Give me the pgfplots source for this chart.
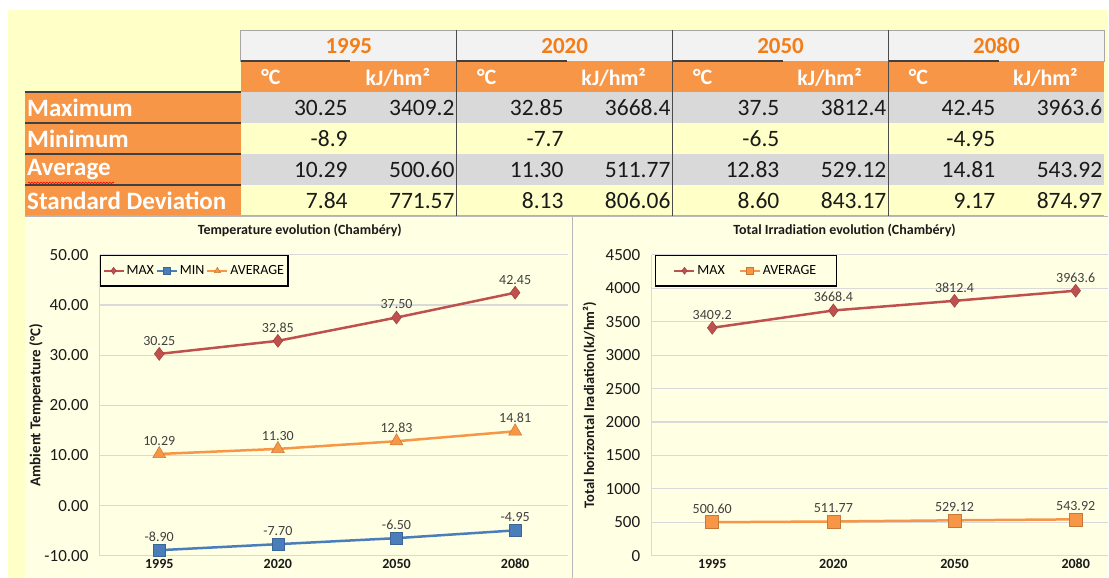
\documentclass[border=0pt]{standalone}
\usepackage{pgfplots}
\pgfplotsset{compat=1.18}
\usepackage{fontspec}
\setmainfont{Carlito}
\usetikzlibrary{decorations.pathmorphing}
\definecolor{ybg}{HTML}{FFFFC8}
\definecolor{cbg}{HTML}{FFFFE4}
\definecolor{org}{HTML}{F79646}
\definecolor{yeartxt}{HTML}{F47D16}
\definecolor{rowgray}{HTML}{D9D9D9}
\definecolor{hdrgray}{HTML}{F2F2F2}
\definecolor{maxred}{HTML}{C0504D}
\definecolor{minblue}{HTML}{4A7EBB}
\definecolor{avgorg}{HTML}{F79646}
\definecolor{gridgray}{HTML}{D9D9D9}
\definecolor{txt}{HTML}{1A1A1A}
\definecolor{lbl}{HTML}{404040}
\pgfplotsset{
  chartbase/.style={
    scale only axis, height=301pt,
    xtick={0,1,2,3}, xticklabels={1995,2020,2050,2080},
    axis x line*=bottom, axis y line*=left,
    axis line style={draw=gridgray, line width=1pt},
    ymajorgrids, grid style={draw=gridgray, line width=1.2pt},
    major tick length=0pt,
    /pgf/number format/assume math mode=true,
    xticklabel style={font=\bfseries\fontsize{14}{16}\selectfont, text=txt},
    yticklabel style={font=\fontsize{17}{19}\selectfont, text=txt, xshift=-8pt},
    legend image code/.code={\draw[mark repeat=2,mark phase=2,#1] plot coordinates {(0pt,0pt)(10pt,0pt)(20pt,0pt)};},
    legend image post style={mark size=3.5pt, line width=2pt},
    every node near coord/.append style={font=\fontsize{14}{16}\selectfont, text=lbl, yshift=5pt},
  }
}
\begin{document}
\begin{tikzpicture}
\begin{scope}[x=1pt,y=-1pt]
\path[use as bounding box] (0,0) rectangle (1109,578);
\fill[white] (0,0) rectangle (1109,578);
\fill[ybg] (8,10) rectangle (1109,578);
\fill[cbg] (25,217) rectangle (1109,578);
\draw[gray!55, line width=1pt] (25,217) -- (1109,217);
\draw[gray!55, line width=1pt] (573,217) -- (573,578);
% table cells
\fill[hdrgray] (241,30) rectangle (1105,61);
\draw[gray!70, line width=0.8pt] (241,30) rectangle (1105,61);
\fill[org] (241,61) rectangle (1105,92);
\fill[rowgray] (241,92) rectangle (1105,123);
\fill[ybg] (241,123) rectangle (1105,154);
\fill[rowgray] (241,154) rectangle (1105,185);
\fill[ybg] (241,185) rectangle (1105,216);
\fill[org] (25,92) rectangle (241,216);
\foreach \yy in {92,123,154,185} {\draw[black!75, line width=1.6pt] (25,\yy) -- (241,\yy);}
\draw[black!75, line width=1.4pt] (241,61) -- (350,61);
\draw[black!75, line width=1.4pt] (457,61) -- (567,61);
\draw[black!75, line width=1.4pt] (673,61) -- (783,61);
\draw[black!75, line width=1.4pt] (889,61) -- (1000,61);
\draw[gray!60, line width=0.8pt] (25,216) -- (1105,216);
\foreach \xx in {457,673,889} {\draw[black!70, line width=1.3pt] (\xx,30) -- (\xx,216);}
% years
\foreach \xs/\yr in {241/1995,457/2020,673/2050,889/2080} {
  \node[font=\bfseries\fontsize{23}{25}\selectfont, text=yeartxt] at (\xs+108,46) {\yr};
  \node[font=\bfseries\fontsize{22}{24}\selectfont, text=white] at (\xs+30,77) {°C};
  \node[font=\bfseries\fontsize{22}{24}\selectfont, text=white] at (\xs+157,77) {kJ/hm²};
}
% row labels
\foreach \yy/\lab in {108/Maximum,139/Minimum,170/Average,201/Standard Deviation} {
  \node[font=\bfseries\fontsize{25}{27}\selectfont, text=white, anchor=west, inner sep=0pt] at (27,\yy) {\lab};
}
\draw[red, line width=0.7pt, decorate, decoration={snake, amplitude=0.7pt, segment length=3pt}] (28,183) -- (114,183);
% values
\foreach \xs/\a/\b/\c/\e/\f/\g/\h in {241/30.25/3409.2/-8.9/10.29/500.60/7.84/771.57,
                                      457/32.85/3668.4/-7.7/11.30/511.77/8.13/806.06,
                                      673/37.5/3812.4/-6.5/12.83/529.12/8.60/843.17,
                                      889/42.45/3963.6/-4.95/14.81/543.92/9.17/874.97} {
  \node[font=\fontsize{23.5}{25}\selectfont, text=txt, anchor=east, inner sep=0pt] at (\xs+107,108) {\a};
  \node[font=\fontsize{23.5}{25}\selectfont, text=txt, anchor=east, inner sep=0pt] at (\xs+214,108) {\b};
  \node[font=\fontsize{23.5}{25}\selectfont, text=txt, anchor=east, inner sep=0pt] at (\xs+107,139) {\c};
  \node[font=\fontsize{23.5}{25}\selectfont, text=txt, anchor=east, inner sep=0pt] at (\xs+107,170) {\e};
  \node[font=\fontsize{23.5}{25}\selectfont, text=txt, anchor=east, inner sep=0pt] at (\xs+214,170) {\f};
  \node[font=\fontsize{23.5}{25}\selectfont, text=txt, anchor=east, inner sep=0pt] at (\xs+107,201) {\g};
  \node[font=\fontsize{23.5}{25}\selectfont, text=txt, anchor=east, inner sep=0pt] at (\xs+214,201) {\h};
}
% chart titles
\node[font=\bfseries\fontsize{14}{16}\selectfont, text=txt] at (300,231) {Temperature evolution (Chambéry)};
\node[font=\bfseries\fontsize{14}{16}\selectfont, text=txt] at (845,231) {Total Irradiation evolution (Chambéry)};
\end{scope}

% Temperature chart
\begin{axis}[chartbase,
  at={(100pt,-556pt)}, anchor=south west, width=468pt,
  xmin=-0.5, xmax=3.443, ymin=-10, ymax=50, ytick={-10,0,10,20,30,40,50},
  yticklabel style={/pgf/number format/.cd, fixed, fixed zerofill, precision=2},
  ylabel={Ambient Temperature (°C)},
  ylabel style={at={(axis description cs:-0.137,0.5)}, anchor=center, rotate=0, font=\bfseries\fontsize{15}{17}\selectfont, text=txt},
  legend style={at={(0,1)}, anchor=north west, draw=black, line width=1.3pt, fill=cbg,
    font=\fontsize{14}{16}\selectfont, legend columns=-1, inner xsep=2pt, inner ysep=8pt,
    /tikz/every even column/.append style={column sep=0pt}},
]
\addplot[maxred, line width=2.5pt, mark=diamond*, mark size=6.5pt,
  mark options={fill=maxred, draw=maxred!80!black, line width=0.5pt},
  nodes near coords, point meta=explicit symbolic]
  table[meta=lab] {
x y lab
0 30.25 30.25
1 32.85 32.85
2 37.50 37.50
3 42.45 42.45
};
\addlegendentry{MAX}
\addplot[minblue, line width=2.5pt, mark=square*, mark size=6pt,
  mark options={fill=minblue, draw=minblue!80!black, line width=0.5pt},
  nodes near coords, point meta=explicit symbolic]
  table[meta=lab] {
x y lab
0 -8.90 -8.90
1 -7.70 -7.70
2 -6.50 -6.50
3 -4.95 -4.95
};
\addlegendentry{MIN}
\addplot[avgorg, line width=2.5pt, mark=triangle*, mark size=7.5pt,
  mark options={fill=avgorg, draw=avgorg!80!black, line width=0.5pt},
  nodes near coords, point meta=explicit symbolic]
  table[meta=lab] {
x y lab
0 10.29 10.29
1 11.30 11.30
2 12.83 12.83
3 14.81 14.81
};
\addlegendentry{AVERAGE}
\end{axis}

% Irradiation chart
\begin{axis}[chartbase,
  at={(652pt,-556pt)}, anchor=south west, width=457pt,
  xmin=-0.5, xmax=3.27, ymin=0, ymax=4500, ytick={0,500,...,4500},
  yticklabel style={/pgf/number format/.cd, fixed, precision=0, 1000 sep={}},
  ylabel={Total horizontal Iradiation(kJ/hm²)},
  ylabel style={at={(axis description cs:-0.136,0.5)}, anchor=center, rotate=0, font=\bfseries\fontsize{14.5}{16}\selectfont, text=txt},
  legend style={at={(0.007,1)}, anchor=north west, draw=black, line width=1.3pt, fill=cbg,
    font=\fontsize{14}{16}\selectfont, legend columns=-1, inner xsep=18pt, inner ysep=8pt,
    /tikz/every even column/.append style={column sep=12pt}},
]
\addplot[maxred, line width=2.5pt, mark=diamond*, mark size=6.5pt,
  mark options={fill=maxred, draw=maxred!80!black, line width=0.5pt},
  nodes near coords, point meta=explicit symbolic]
  table[meta=lab] {
x y lab
0 3409.2 3409.2
1 3668.4 3668.4
2 3812.4 3812.4
3 3963.6 3963.6
};
\addlegendentry{MAX}
\addplot[avgorg, line width=2.5pt, mark=square*, mark size=6.5pt,
  mark options={fill=avgorg, draw=avgorg!80!black, line width=0.5pt},
  nodes near coords, point meta=explicit symbolic]
  table[meta=lab] {
x y lab
0 500.60 500.60
1 511.77 511.77
2 529.12 529.12
3 543.92 543.92
};
\addlegendentry{AVERAGE}
\end{axis}
\end{tikzpicture}
\end{document}
